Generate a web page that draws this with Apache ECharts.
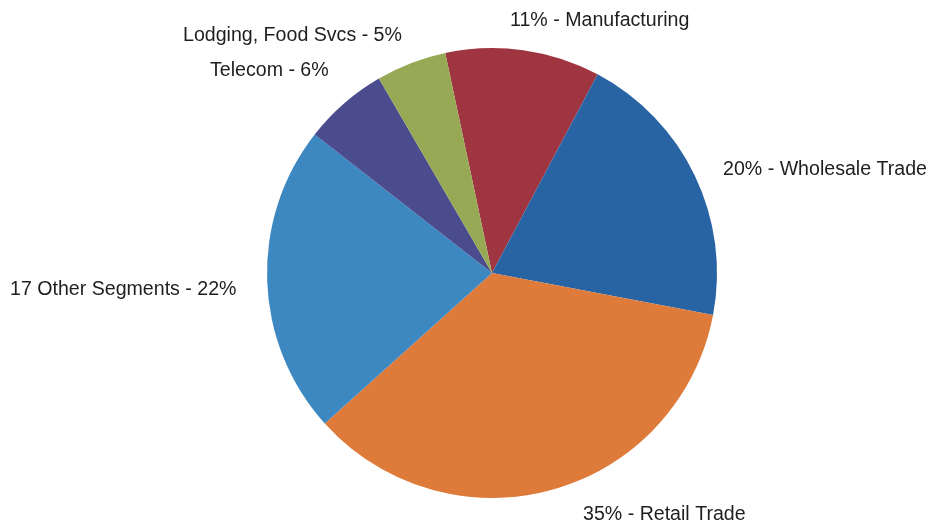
<!DOCTYPE html>
<html>
<head>
<meta charset="utf-8">
<script src="https://cdn.jsdelivr.net/npm/echarts@6/dist/echarts.min.js"></script>
<style>
  html, body { margin: 0; padding: 0; background: #ffffff; }
  #chart { width: 933px; height: 527px; }
</style>
</head>
<body>
<div id="chart"></div>
<script>
// Share of segments, clockwise from the top
const segments = ['Manufacturing', 'Wholesale Trade', 'Retail Trade', '17 Other Segments', 'Telecom', 'Lodging, Food Svcs'];
const shares = [11, 20, 35, 22, 6, 5];
const labelTexts = [
  '11% - Manufacturing',
  '20% - Wholesale Trade',
  '35% - Retail Trade',
  '17 Other Segments - 22%',
  'Telecom - 6%',
  'Lodging, Food Svcs - 5%'
];
const sliceColors = ['#9e3540', '#2863a4', '#de7b3a', '#3d88c1', '#4a4c8e', '#98a955'];

// Where each label's left edge / vertical middle sits
const labelSpots = [
  [510, 21],
  [723, 170],
  [583, 515],
  [10, 290],
  [210, 71],
  [183, 36]
];

const chart = echarts.init(document.getElementById('chart'), null, { renderer: 'canvas' });
chart.setOption({
  backgroundColor: '#ffffff',
  animation: false,
  series: [{
    type: 'pie',
    center: [492, 273],
    radius: [0, 225],
    startAngle: 102,
    clockwise: true,
    data: segments.map((name, i) => ({
      name: name,
      value: shares[i],
      itemStyle: { color: sliceColors[i] },
      label: { formatter: labelTexts[i] }
    })),
    itemStyle: { borderWidth: 0 },
    label: {
      show: true,
      position: 'outside',
      overflow: 'none',
      color: '#1e1e1e',
      fontFamily: 'Liberation Sans, Arial, sans-serif',
      fontSize: 19.6
    },
    labelLine: { show: false },
    labelLayout: function (params) {
      const p = labelSpots[params.dataIndex];
      return { x: p[0], y: p[1], align: 'left', verticalAlign: 'middle' };
    }
  }]
});
</script>
</body>
</html>
